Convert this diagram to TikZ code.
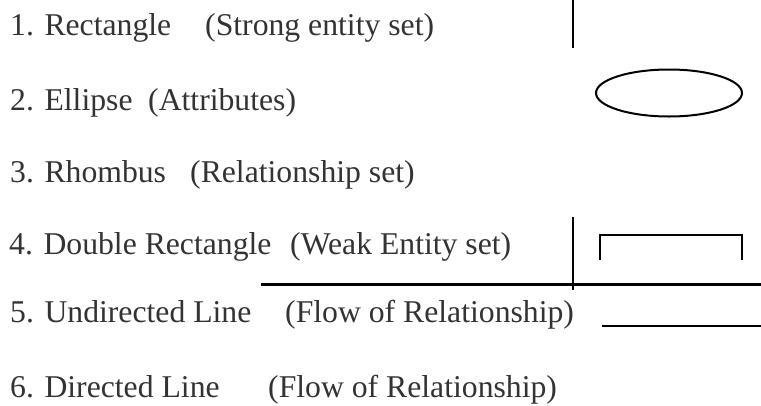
\documentclass[tikz,border=0pt]{standalone}
\usepackage{fontspec}
\setmainfont{Liberation Serif}
\usepackage{tikz}
\usepackage{xcolor}

\tikzset{
  item/.style={anchor=base west, inner sep=0pt, text=black!80, font=\fontsize{31.7}{38}\selectfont},
  rule/.style={line width=2.4pt, black}
}

\begin{document}
\begin{tikzpicture}[x=1pt,y=-1pt]
  \useasboundingbox (0,0) rectangle (761,405);
  % list of symbols
  \node[item] (n1) at (10,35) {1. Rectangle}; \node[item] (d1) at (205,35) {(Strong entity set)};
  \node[item] (n2) at (10,110) {2. Ellipse}; \node[item] (d2) at (148,110) {(Attributes)};
  \node[item] (n3) at (10,182) {3. Rhombus}; \node[item] (d3) at (190,182) {(Relationship set)};
  \node[item] (n4) at (9,254) {4. Double Rectangle}; \node[item] (d4) at (290,254) {(Weak Entity set)};
  \node[item] (n5) at (10,322) {5. Undirected Line}; \node[item] (d5) at (285,322) {(Flow of Relationship)};
  \node[item] (n6) at (10,397) {6. Directed Line}; \node[item] (d6) at (268,397) {(Flow of Relationship)};
  % shapes on the right
  \draw[rule] (573,0) -- (573,48);
  \draw[line width=2pt] (669,93) ellipse [x radius=73, y radius=23.5];
  \draw[rule, line width=2pt] (573,217) -- (573,290);
  \draw[rule] (600,260) -- (600,235) -- (742,235) -- (742,260);
  \draw[rule, line width=3pt] (261,284) -- (761,284);
  \draw[rule, line width=2pt] (602,326) -- (761,326);
\end{tikzpicture}
\end{document}
